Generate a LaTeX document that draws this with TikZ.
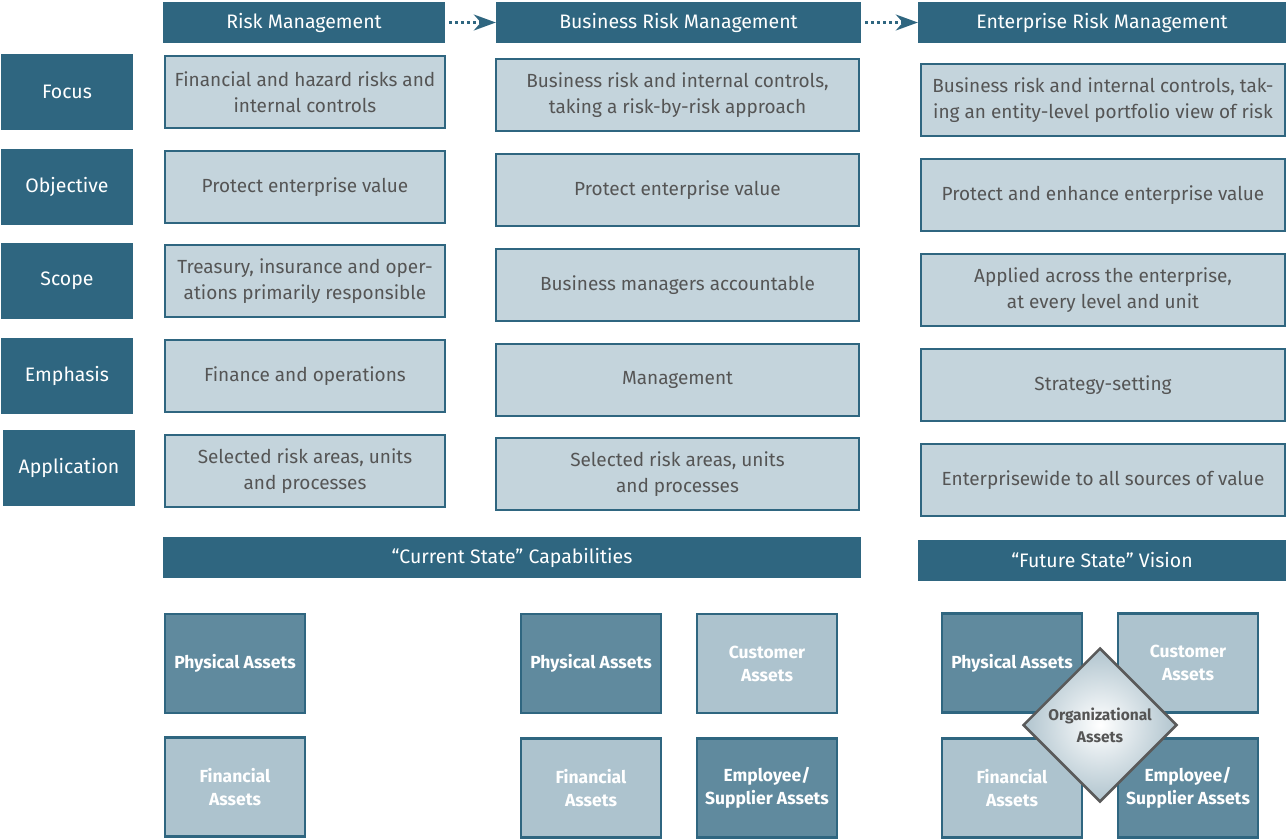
\documentclass[tikz,border=0pt]{standalone}
\usepackage{fontspec}
\setmainfont{Fira Sans}
\usetikzlibrary{arrows.meta,shapes.geometric}
\definecolor{dk}{RGB}{47,102,128}
\definecolor{lt}{RGB}{196,212,220}
\definecolor{tg}{RGB}{85,85,85}
\definecolor{phys}{RGB}{96,138,158}
\definecolor{fin}{RGB}{173,195,206}
\definecolor{dia}{RGB}{176,196,206}
\definecolor{diab}{RGB}{90,90,90}
\tikzset{
  hdr/.style={fill=dk, text=white, inner sep=0pt, minimum height=41pt, font=\fontsize{19.5}{23}\selectfont},
  lbl/.style={fill=dk, text=white, inner sep=0pt, minimum width=132pt, minimum height=76pt, font=\fontsize{19.5}{23}\selectfont},
  cell/.style={fill=lt, draw=dk, line width=2.5pt, text=tg, align=center, inner sep=0pt, minimum height=72pt, font=\fontsize{19}{25.5}\selectfont},
  asset/.style={draw=dk, line width=2.5pt, text=white, align=center, inner sep=0pt, minimum width=140pt, minimum height=99pt, font=\bfseries\fontsize{17.5}{23}\selectfont},
  ph/.style={asset, fill=phys},
  fn/.style={asset, fill=fin},
  darr/.style={dk, line width=2.5pt, dash pattern=on 2.5pt off 3.5pt, shorten <=4pt, -{Stealth[length=22pt,width=16pt,inset=7pt]}}
}
\begin{document}
\begin{tikzpicture}[x=1pt,y=-1pt]
\useasboundingbox (0,0) rectangle (1288,839);
% headers
\node[hdr, minimum width=282pt] (h1) at (304,22.5) {Risk Management};
\node[hdr, minimum width=365pt] (h2) at (678.5,22.5) {Business Risk Management};
\node[hdr, minimum width=368pt] (h3) at (1102,22.5) {Enterprise Risk Management};
\draw[darr] (h1.east) -- (h2.west);
\draw[darr] (h2.east) -- (h3.west);
% row labels
\node[lbl] (lf) at (67,92) {Focus};
\node[lbl] (lo) at (67,187) {Objective};
\node[lbl] (ls) at (67,281) {Scope};
\node[lbl] (le) at (67,376) {Emphasis};
\node[lbl] (la) at (69,468) {Application};
% column 1
\node[cell, minimum width=280pt] (a1) at (305,92) {Financial and hazard risks and\\internal controls};
\node[cell, minimum width=280pt] (a2) at (305,187) {Protect enterprise value};
\node[cell, minimum width=280pt] (a3) at (305,281) {Treasury, insurance and oper-\\ations primarily responsible};
\node[cell, minimum width=280pt] (a4) at (305,376) {Finance and operations};
\node[cell, minimum width=280pt] (a5) at (305,471) {Selected risk areas, units\\and processes};
% column 2
\node[cell, minimum width=363pt] (b1) at (677.5,95) {Business risk and internal controls,\\taking a risk-by-risk approach};
\node[cell, minimum width=363pt] (b2) at (677.5,190) {Protect enterprise value};
\node[cell, minimum width=363pt] (b3) at (677.5,285) {Business managers accountable};
\node[cell, minimum width=363pt] (b4) at (677.5,380) {Management};
\node[cell, minimum width=363pt] (b5) at (677.5,474) {Selected risk areas, units\\and processes};
% column 3
\node[cell, minimum width=364pt] (c1) at (1103,100) {Business risk and internal controls, tak-\\ing an entity-level portfolio view of risk};
\node[cell, minimum width=364pt] (c2) at (1103,195) {Protect and enhance enterprise value};
\node[cell, minimum width=364pt] (c3) at (1103,290) {Applied across the enterprise,\\at every level and unit};
\node[cell, minimum width=364pt] (c4) at (1103,385) {Strategy-setting};
\node[cell, minimum width=364pt] (c5) at (1103,480) {Enterprisewide to all sources of value};
% state bars
\node[hdr, minimum width=698pt] (cur) at (512,557.5) {“Current State” Capabilities};
\node[hdr, minimum width=368pt] (fut) at (1102,560.5) {“Future State” Vision};
% assets column 1
\node[ph] (p1) at (235,663.5) {Physical Assets};
\node[fn] (f1) at (235,787) {Financial\\Assets};
% assets column 2
\node[ph] (p2) at (591,663.5) {Physical Assets};
\node[fn] (u2) at (767,663.5) {Customer\\Assets};
\node[fn] (f2) at (591,788) {Financial\\Assets};
\node[ph] (e2) at (767,788) {Employee/\\Supplier Assets};
% assets column 3
\node[ph] (p3) at (1012,663) {Physical Assets};
\node[fn] (u3) at (1188,663) {Customer\\Assets};
\node[fn] (f3) at (1012,788) {Financial\\Assets};
\node[ph] (e3) at (1188,788) {Employee/\\Supplier Assets};
\node[diamond, aspect=1, minimum width=154pt, minimum height=154pt, inner sep=0pt, draw=diab, line width=2.5pt, inner color=white, outer color=dia, text=tg, align=center, font=\bfseries\fontsize{15.5}{22}\selectfont] (o3) at (1100,725) {Organizational\\Assets};
\end{tikzpicture}
\end{document}
